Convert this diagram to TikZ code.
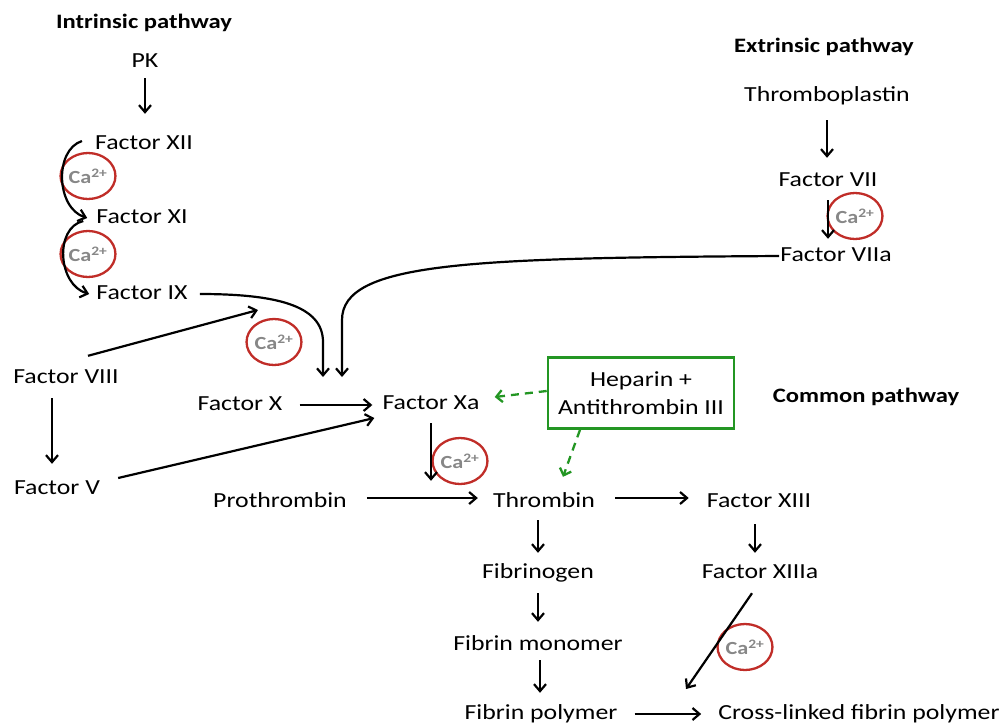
\documentclass[tikz,border=0pt]{standalone}
\usepackage{fontspec}
\setmainfont{Carlito}[FakeStretch=1.2]
\usetikzlibrary{arrows.meta,shapes.geometric,calc}
\definecolor{cared}{RGB}{192,45,40}
\definecolor{cagray}{RGB}{135,135,135}
\definecolor{hgreen}{RGB}{35,150,35}
\begin{document}
\begin{tikzpicture}[x=1pt,y=-1pt,
  lbl/.style={font=\fontsize{21.5}{24}\selectfont, inner sep=1pt, text height=14pt, text depth=4pt},
  ttl/.style={font=\fontsize{20.5}{22}\selectfont\bfseries, inner sep=1pt},
  arr/.style={draw=black, line width=2.2pt, -{Straight Barb[length=7pt,width=12pt]}},
  ca/.style={ellipse, draw=cared, line width=2.3pt, minimum width=50pt, minimum height=46pt, inner sep=0pt, text=cagray, font=\fontsize{18.5}{18}\selectfont\bfseries},
  inh/.style={draw=hgreen, line width=2.3pt, dash pattern=on 8pt off 6pt, -{Straight Barb[length=6pt,width=12pt]}},
  hbox/.style={draw=hgreen, line width=2.6pt, minimum width=186pt, minimum height=71pt, align=center, font=\fontsize{21.5}{28}\selectfont, inner sep=2pt}
]
\useasboundingbox (0,0) rectangle (1003,726);

% titles
\node[ttl] (tint) at (144,23) {Intrinsic pathway};
\node[ttl] (text) at (824,47) {Extrinsic pathway};
\node[ttl] (tcom) at (866,397) {Common pathway};

% intrinsic
\node[lbl] (pk)  at (145,62)  {PK};
\node[lbl] (f12) at (144,144) {Factor XII};
\node[lbl] (f11) at (142,218) {Factor XI};
\node[lbl] (f9)  at (142,294) {Factor IX};
\node[lbl] (f8)  at (66,378)  {Factor VIII};
\node[lbl] (f5)  at (57,489)  {Factor V};

% extrinsic
\node[lbl] (tp)  at (827,96)  {Thromboplastin};
\node[lbl] (f7)  at (828,181) {Factor VII};
\node[lbl] (f7a) at (836,256) {Factor VIIa};

% common
\node[lbl] (fx)   at (240,405) {Factor X};
\node[lbl] (fxa)  at (431,404) {Factor Xa};
\node[lbl] (pro)  at (280,502) {Prothrombin};
\node[lbl] (thr)  at (544,502) {Thrombin};
\node[lbl] (f13)  at (759,502) {Factor XIII};
\node[lbl] (f13a) at (760,573) {Factor XIIIa};
\node[lbl] (fbg)  at (538,573) {Fibrinogen};
\node[lbl] (fmon) at (538,645) {Fibrin monomer};
\node[lbl] (fpol) at (541,714) {Fibrin polymer};
\node[lbl] (fcl)  at (859,714) {Cross-linked fibrin polymer};

\node[hbox] (hep) at (641,393) {Heparin +\\Antithrombin III};

% calcium
\node[ca] (ca1) at (88,176)  {Ca\textsuperscript{2+}};
\node[ca] (ca2) at (88,254)  {Ca\textsuperscript{2+}};
\node[ca] (ca3) at (274,342) {Ca\textsuperscript{2+}};
\node[ca] (ca4) at (460,461) {Ca\textsuperscript{2+}};
\node[ca] (ca5) at (855,216) {Ca\textsuperscript{2+}};
\node[ca] (ca6) at (745,647) {Ca\textsuperscript{2+}};

% free-end coordinates
\coordinate (t9)  at (323,377);
\coordinate (t7a) at (342,377);
\coordinate (t8)  at (258,310);
\coordinate (t13) at (686,689);

% vertical arrows
\draw[arr, shorten <=6pt, shorten >=20pt] (pk.south) -- (pk.south |- f12.north);
\draw[arr, shorten <=14pt, shorten >=13pt] (tp.south) -- (tp.south |- f7.north);
\draw[arr, shorten <=9pt, shorten >=7pt] (f7.south) -- (f7.south |- f7a.north);
\draw[arr, shorten <=10pt, shorten >=15pt] ([xshift=-14pt]f8.south) -- ([xshift=-14pt]f8.south |- f5.north);
\draw[arr, shorten <=9pt, shorten >=11pt] (fxa.south) -- (fxa.south |- thr.north);
\draw[arr, shorten <=12pt, shorten >=10pt] ([xshift=-4pt]f13.south) -- ([xshift=-4pt]f13.south |- f13a.north);
\draw[arr, shorten <=8pt, shorten >=10pt] (fbg.north |- thr.south) -- (fbg.north);
\draw[arr, shorten <=10pt, shorten >=13pt] (fbg.south) -- (fbg.south |- fmon.north);
\draw[arr, shorten <=5pt, shorten >=11pt] ([xshift=2pt]fmon.south) -- ([xshift=2pt]fmon.south |- fpol.north);

% horizontal arrows
\draw[arr, shorten <=16pt, shorten >=9pt] (fx.east) -- (fx.east -| fxa.west);
\draw[arr, shorten <=19pt, shorten >=14pt] ([yshift=4pt]pro.east) -- ([yshift=4pt]pro.east -| thr.west);
\draw[arr, shorten <=19pt, shorten >=17pt] ([yshift=4pt]thr.east) -- ([yshift=4pt]thr.east -| f13.west);
\draw[arr, shorten <=16pt, shorten >=16pt] (fpol.east) -- (fpol.east -| fcl.west);

% calcium-dependent curved arrows
\draw[arr] ([shift={(-12,-3)}]f12.west) .. controls (54,150) and (56,208) .. ([shift={(-8,0)}]f11.west);
\draw[arr] ([shift={(-12,3)}]f11.west) .. controls (54,228) and (58,285) .. ([shift={(-6,0)}]f9.west);

% diagonal arrows
\draw[arr] ([shift={(22,-12)}]f8.north) -- (t8);
\draw[arr] ([shift={(17,-11)}]f5.east) -- ([shift={(-7,14)}]fxa.west);
\draw[arr] ([shift={(-8,10)}]f13a.south) -- (t13);

% long curves into Factor Xa
\draw[arr, shorten <=11pt] (f9.east) .. controls (275,294) and (323,305) .. (323,342) -- (t9);
\draw[arr] (f7a.west) .. controls (470,258) and (342,262) .. (342,320) -- (t7a);

% heparin inhibition
\draw[inh] ([yshift=2pt]hep.west) -- ([shift={(14,-7)}]fxa.east);
\draw[inh] ([xshift=-61pt]hep.south) -- ([shift={(19,-15)}]thr.north);

\end{tikzpicture}
\end{document}
